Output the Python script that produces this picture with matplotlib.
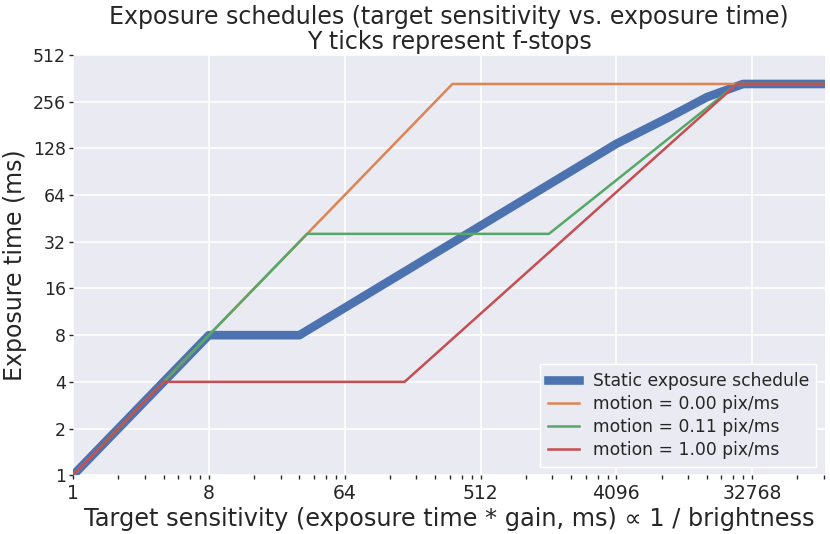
import matplotlib
matplotlib.use("Agg")
from matplotlib import pyplot as plt
from matplotlib import ticker

# sensitivity (x) and exposure (y) breakpoints
static_x = [1, 8, 32, 4096, 9700, 16400, 28500, 100000]
static_y = [1, 8, 8, 137, 209, 274, 333, 333]

m000_x = [1, 333, 100000]
m000_y = [1, 333, 333]

m011_x = [1, 36, 1460, 26000, 100000]
m011_y = [1, 36, 36, 333, 333]

m100_x = [1, 4, 160, 26000, 100000]
m100_y = [1, 4, 4, 333, 333]

xticks = [1, 8, 64, 512, 4096, 32768]
yticks = [1, 2, 4, 8, 16, 32, 64, 128, 256, 512]

plt.rcParams.update({
    "font.family": "DejaVu Sans",
    "axes.facecolor": "#EAEAF2",
    "axes.edgecolor": "white",
    "axes.grid": True,
    "grid.color": "white",
    "grid.linewidth": 1.2,
    "xtick.color": "#262626",
    "ytick.color": "#262626",
    "text.color": "#262626",
    "axes.labelcolor": "#262626",
})

fig = plt.figure(figsize=(8.3, 5.34), dpi=100)
ax = fig.add_axes([0.088, 0.110, 0.906, 0.787])
for s in ax.spines.values():
    s.set_visible(False)
ax.set_axisbelow(True)

ax.plot(static_x, static_y, color="#4C72B0", linewidth=6.2, label="Static exposure schedule")
ax.plot(m000_x, m000_y, color="#DD8452", linewidth=1.8, label="motion = 0.00 pix/ms")
ax.plot(m011_x, m011_y, color="#55A868", linewidth=1.8, label="motion = 0.11 pix/ms")
ax.plot(m100_x, m100_y, color="#C44E52", linewidth=1.8, label="motion = 1.00 pix/ms")

ax.set_xscale("log", base=2)
ax.set_yscale("log", base=2)
ax.set_xlim(1, 100000)
ax.set_ylim(1, 512)

ax.xaxis.set_major_locator(ticker.FixedLocator(xticks))
ax.xaxis.set_major_formatter(ticker.FixedFormatter([str(t) for t in xticks]))
ax.xaxis.set_minor_locator(ticker.LogLocator(base=8, subs=range(2, 8), numticks=20))
ax.xaxis.set_minor_formatter(ticker.NullFormatter())
ax.yaxis.set_major_locator(ticker.FixedLocator(yticks))
ax.yaxis.set_major_formatter(ticker.FixedFormatter([str(t) for t in yticks]))
ax.yaxis.set_minor_locator(ticker.NullLocator())
ax.tick_params(which="both", direction="out", length=3, width=1, labelsize=12.5, pad=2)
ax.tick_params(axis="x", labelsize=13.5, pad=3)
ax.grid(which="minor", visible=False)

ax.set_xlabel("Target sensitivity (exposure time * gain, ms) \u221d 1 / brightness", fontsize=17.3, labelpad=3)
ax.set_ylabel("Exposure time (ms)", fontsize=17)
ax.set_title("Exposure schedules (target sensitivity vs. exposure time)\nY ticks represent f-stops",
             fontsize=17, linespacing=1.1, pad=4)

leg = ax.legend(loc="lower right", fontsize=12.3, frameon=True, facecolor="#EAEAF2",
                edgecolor="white", framealpha=1, fancybox=False, handlelength=1.8,
                labelspacing=0.3, borderpad=0.45)

plt.savefig("out.png", dpi=100)
